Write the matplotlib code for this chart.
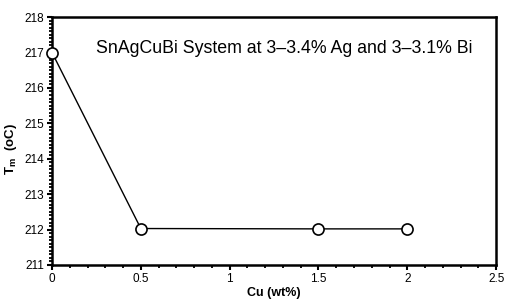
import matplotlib
matplotlib.use('Agg')
import matplotlib.pyplot as plt
from matplotlib.ticker import MultipleLocator

plt.rcParams['font.family'] = ['Liberation Sans', 'DejaVu Sans']

cu = [0, 0.5, 1.5, 2]
tm = [217, 212.03, 212.02, 212.02]
x_ticks = [0, 0.5, 1, 1.5, 2, 2.5]
x_labels = ['0', '0.5', '1', '1.5', '2', '2.5']
y_ticks = [211, 212, 213, 214, 215, 216, 217, 218]

fig = plt.figure(figsize=(5.07, 3.06), dpi=100)
ax = fig.add_axes([0.1026, 0.134, 0.876, 0.81])

ax.plot(cu, tm, color='black', lw=1.0, marker='o', ms=8,
        mfc='white', mec='black', mew=1.2, clip_on=False, zorder=3)

ax.set_xlim(0, 2.5)
ax.set_ylim(211, 218)
ax.set_xticks(x_ticks)
ax.set_xticklabels(x_labels)
ax.set_yticks(y_ticks)
ax.xaxis.set_minor_locator(MultipleLocator(0.1))
ax.yaxis.set_minor_locator(MultipleLocator(0.1))
ax.tick_params(which='major', direction='out', length=3.5, width=1.5, labelsize=8.5, pad=2)
ax.tick_params(which='minor', direction='out', length=2, width=1.3)

for s in ax.spines.values():
    s.set_linewidth(1.8)

ax.set_xlabel('Cu (wt%)', fontsize=9, fontweight='bold', labelpad=2)
ax.set_ylabel(r'T$_\mathregular{m}$  (oC)', fontsize=9.5, fontweight='bold')
ax.yaxis.set_label_coords(-0.075, 0.47)

ax.text(1.31, 217.12, 'SnAgCuBi System at 3\u20133.4% Ag and 3\u20133.1% Bi',
        fontsize=12.8, ha='center', va='center')

fig.savefig('out.png', dpi=100)
